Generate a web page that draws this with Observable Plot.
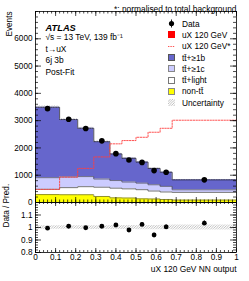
<!DOCTYPE html>
<html><head><meta charset="utf-8">
<script src="https://cdn.jsdelivr.net/npm/d3@7"></script>
<script src="https://cdn.jsdelivr.net/npm/@observablehq/plot@0.6"></script>
<style>
body{margin:0;background:#fff;font-family:"Liberation Sans",Arial,sans-serif;}
#wrap{position:relative;width:249px;height:281px;overflow:hidden;}
#wrap svg.plot{display:block;}
.leg{position:absolute;left:168px;top:18px;font-size:8.3px;color:#000;}
.row{height:11.3px;display:flex;align-items:center;white-space:nowrap;}
.sw{width:7px;height:7px;box-sizing:border-box;margin-right:7px;position:relative;flex:none;}
</style></head><body>
<svg width="0" height="0" style="position:absolute">
<defs>
<pattern id="hatch" patternUnits="userSpaceOnUse" width="2.5" height="2.5">
<path d="M-0.5,0.5 L0.5,-0.5 M0,2.5 L2.5,0 M2,3 L3,2" stroke="#999" stroke-width="0.6"/>
</pattern>
</defs>
</svg>
<div id="wrap"></div>
<script>
// ---- data ----
const binEdges   = [0, 0.12, 0.21, 0.29, 0.37, 0.43, 0.50, 0.56, 0.62, 0.68, 1.0];
const binCenters = [0.06, 0.165, 0.25, 0.33, 0.40, 0.465, 0.53, 0.59, 0.65, 0.84];
const nonTT   = [290, 285, 285, 220, 170, 165, 135, 130, 110, 90];
const ttLight = [195, 260, 295, 340, 355, 335, 335, 290, 275, 280];
const ttC     = [425, 390, 370, 300, 280, 250, 240, 230, 205, 95];
const ttB     = [2580, 2105, 1770, 1370, 975, 870, 770, 600, 520, 365];
const signalNorm = [480, 930, 1250, 1670, 2150, 2270, 2390, 2575, 2720, 3015];
const dataEvents = [3440, 3050, 2710, 2260, 1790, 1560, 1470, 1170, 1110, 830];
const ratioVals  = [0.995, 1.01, 0.998, 1.01, 1.02, 0.98, 1.025, 0.94, 1.005, 1.035];
const ratioErr   = [0.008, 0.009, 0.01, 0.011, 0.012, 0.013, 0.013, 0.015, 0.015, 0.018];
const uncRel     = [0.014, 0.014, 0.015, 0.015, 0.016, 0.016, 0.017, 0.017, 0.018, 0.02];
const mainYTicks = [0, 1000, 2000, 3000, 4000, 5000, 6000];
const ratioYTicks = [0.8, 0.9, 1, 1.1];
const xTicks = [0, 0.1, 0.2, 0.3, 0.4, 0.5, 0.6, 0.7, 0.8, 0.9, 1];
const components = [
  {label: "non-tt\u0304",     values: nonTT,   fill: "#ffff00", stroke: "#777733"},
  {label: "tt\u0304+light",   values: ttLight, fill: "#ffffff", stroke: "#555555"},
  {label: "tt\u0304+\u22651c", values: ttC,    fill: "#ccccff", stroke: "#555566"},
  {label: "tt\u0304+\u22651b", values: ttB,    fill: "#6666cc", stroke: "#222233"}
];
const noteText = "*: normalised to total background";
const atlasLabel = "ATLAS";
const infoLines = ["\u221As = 13 TeV, 139 fb\u207B\u00B9", "t\u2192uX", "6j 3b", "Post-Fit"];
const legendItems = [
  {label: "Data", kind: "data"},
  {label: "uX 120 GeV", kind: "box", fill: "#ff0000", stroke: "#ff0000"},
  {label: "uX 120 GeV*", kind: "dash", stroke: "#ff4040"},
  {label: "tt\u0304+\u22651b", kind: "box", fill: "#6666cc", stroke: "#555"},
  {label: "tt\u0304+\u22651c", kind: "box", fill: "#ccccff", stroke: "#888"},
  {label: "tt\u0304+light", kind: "box", fill: "#ffffff", stroke: "#777"},
  {label: "non-tt\u0304", kind: "box", fill: "#ffff00", stroke: "#888"},
  {label: "Uncertainty", kind: "hatch"}
];
const yLabelMain = "Events";
const yLabelRatio = "Data / Pred.";
const xLabel = "uX 120 GeV NN output";

// ---- derived step series ----
const n = binCenters.length;
const step = (vals) => binEdges.map((e, i) => ({x: e, v: vals[Math.min(i, n - 1)]}));
let cum = new Array(n).fill(0);
const stackSeries = components.map(c => {
  const lo = cum.slice();
  const hi = cum.map((v, i) => v + c.values[i]);
  cum = hi;
  return {...c, pts: binEdges.map((e, i) => ({x: e, y1: lo[Math.min(i, n - 1)], y2: hi[Math.min(i, n - 1)]}))};
});
const total = cum;
const uncMain = binEdges.map((e, i) => {const k = Math.min(i, n - 1); return {x: e, y1: total[k] * (1 - uncRel[k]), y2: total[k] * (1 + uncRel[k])};});
const uncRatio = binEdges.map((e, i) => {const k = Math.min(i, n - 1); return {x: e, y1: 1 - uncRel[k], y2: 1 + uncRel[k]};});
const sigPts = step(signalNorm);
const dataPts = binCenters.map((x, i) => ({x, y: dataEvents[i]}));
const ratioPts = binCenters.map((x, i) => ({x, y: ratioVals[i], e: ratioErr[i]}));

const font = "'Liberation Sans', Arial, sans-serif";
const W = 249, ML = 35, MR = 13;
const FW = W - ML - MR;
const mainH = 202, mainMT = 11, mainFH = mainH - mainMT;
const ratH = 79, ratMB = 29, ratFH = ratH - ratMB;
const fmt = d => String(d);

function frameTicks(xMaj, xMin, yMaj, yMin, fh, lenX, lenY) {
  const s = {stroke: "black", strokeWidth: 0.7};
  return [
    Plot.tickX(xMaj, {x: d => d, insetTop: fh - lenX, ...s}),
    Plot.tickX(xMin, {x: d => d, insetTop: fh - lenX / 2, ...s}),
    Plot.tickX(xMaj, {x: d => d, insetBottom: fh - lenX, ...s}),
    Plot.tickX(xMin, {x: d => d, insetBottom: fh - lenX / 2, ...s}),
    Plot.tickY(yMaj, {y: d => d, insetRight: FW - lenY, ...s}),
    Plot.tickY(yMin, {y: d => d, insetRight: FW - lenY / 2, ...s}),
    Plot.tickY(yMaj, {y: d => d, insetLeft: FW - lenY, ...s}),
    Plot.tickY(yMin, {y: d => d, insetLeft: FW - lenY / 2, ...s})
  ];
}
const xMinor = d3.range(0, 1.0001, 0.02);
const mainYMinor = d3.range(0, 7001, 200);
const ratioYMinor = d3.range(0.8, 1.2001, 0.02);

const main = Plot.plot({
  width: W, height: mainH, marginLeft: ML, marginRight: MR, marginTop: mainMT, marginBottom: 0,
  x: {domain: [0, 1]}, y: {domain: [0, 7000]},
  style: {fontFamily: font, fontSize: "8.3px", background: "transparent", overflow: "visible"},
  marks: [
    ...stackSeries.map(s => Plot.areaY(s.pts, {x: "x", y1: "y1", y2: "y2", curve: "step-after", fill: s.fill})),
    ...stackSeries.map(s => Plot.lineY(s.pts, {x: "x", y: "y2", curve: "step-after", stroke: s.stroke, strokeWidth: 0.8})),
    Plot.areaY(uncMain, {x: "x", y1: "y1", y2: "y2", curve: "step-after", fill: "url(#hatch)"}),
    Plot.lineY(sigPts, {x: "x", y: "v", curve: "step-after", stroke: "#ff4040", strokeWidth: 0.9, strokeDasharray: "1.5,1.3"}),
    Plot.dot(dataPts, {x: "x", y: "y", r: 2.8, fill: "black"}),
    Plot.frame({stroke: "black", strokeWidth: 0.8}),
    ...frameTicks(xTicks, xMinor, mainYTicks, mainYMinor, mainFH, 5, 6),
    Plot.axisY(mainYTicks, {anchor: "left", tickSize: 0, tickPadding: 3, label: null, fontSize: 8.2, tickFormat: fmt}),
    Plot.axisX([], {anchor: "bottom", tickSize: 0, label: null}),
    Plot.text([yLabelMain], {frameAnchor: "top-left", dx: -29, rotate: -90, textAnchor: "end", fontSize: 8.2}),
    Plot.text([noteText], {frameAnchor: "top-right", dy: -5, textAnchor: "end", fontSize: 8.4}),
    Plot.text([atlasLabel], {frameAnchor: "top-left", dx: 10, dy: 13, textAnchor: "start", fontSize: 9.3, fontWeight: "bold", fontStyle: "italic"}),
    Plot.text([infoLines.join("\n")], {frameAnchor: "top-left", dx: 10, dy: 20.5, lineAnchor: "top", textAnchor: "start", fontSize: 8.4, lineHeight: 1.38})
  ]
});

const ratio = Plot.plot({
  width: W, height: ratH, marginLeft: ML, marginRight: MR, marginTop: 0, marginBottom: ratMB,
  x: {domain: [0, 1]}, y: {domain: [0.8, 1.2]},
  style: {fontFamily: font, fontSize: "8.3px", background: "transparent", overflow: "visible"},
  marks: [
    Plot.areaY(uncRatio, {x: "x", y1: "y1", y2: "y2", curve: "step-after", fill: "url(#hatch)"}),
    Plot.ruleX(ratioPts, {x: "x", y1: d => d.y - d.e, y2: d => d.y + d.e, stroke: "black", strokeWidth: 1.2}),
    Plot.dot(ratioPts, {x: "x", y: "y", r: 2.4, fill: "black"}),
    Plot.frame({stroke: "black", strokeWidth: 0.8}),
    ...frameTicks(xTicks, xMinor, ratioYTicks, ratioYMinor, ratFH, 4, 6),
    Plot.axisY(ratioYTicks, {anchor: "left", tickSize: 0, tickPadding: 3, label: null, fontSize: 8.2, tickFormat: fmt}),
    Plot.axisX(xTicks, {anchor: "bottom", tickSize: 0, tickPadding: 2, label: null, fontSize: 8.2, tickFormat: fmt}),
    Plot.text([yLabelRatio], {frameAnchor: "left", dx: -29, rotate: -90, fontSize: 8.2}),
    Plot.text([xLabel], {frameAnchor: "bottom-right", dy: 19, textAnchor: "end", fontSize: 8.4})
  ]
});

const wrap = document.getElementById("wrap");
main.classList.add("plot"); ratio.classList.add("plot");
wrap.appendChild(main);
wrap.appendChild(ratio);

// legend
const leg = document.createElement("div");
leg.className = "leg";
for (const it of legendItems) {
  const row = document.createElement("div");
  row.className = "row";
  const sw = document.createElement("div");
  sw.className = "sw";
  if (it.kind === "box") {
    sw.style.background = it.fill; sw.style.border = "0.8px solid " + it.stroke;
  } else if (it.kind === "hatch") {
    sw.innerHTML = '<svg width="7" height="7" style="display:block"><rect width="7" height="7" fill="url(#hatch)"/></svg>';
  } else if (it.kind === "dash") {
    sw.innerHTML = '<svg width="7" height="7" style="display:block"><line x1="0" x2="7" y1="3.5" y2="3.5" stroke="' + it.stroke + '" stroke-width="0.9" stroke-dasharray="1.4,1"/></svg>';
  } else if (it.kind === "data") {
    sw.innerHTML = '<svg width="7" height="7" style="display:block;overflow:visible"><line x1="3.5" x2="3.5" y1="-0.5" y2="7.5" stroke="black" stroke-width="0.9"/><circle cx="3.5" cy="3.5" r="2.6" fill="black"/></svg>';
  }
  row.appendChild(sw);
  const t = document.createElement("span");
  t.textContent = it.label;
  row.appendChild(t);
  leg.appendChild(row);
}
wrap.appendChild(leg);
</script>
</body></html>
